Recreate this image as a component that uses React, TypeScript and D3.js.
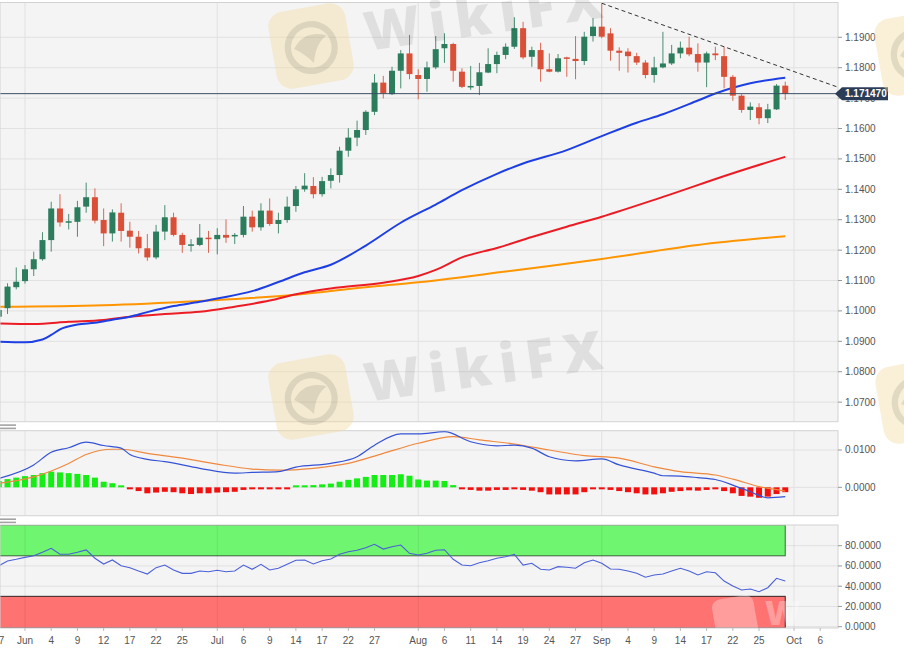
import React from "react";
import * as d3 from "d3";

// ---- Daily EUR/USD candles (trading days) ----
const dates = [
  "05-27","05-28","05-29",
  "06-01","06-02","06-03","06-04","06-05","06-08","06-09","06-10","06-11","06-12","06-15","06-16","06-17","06-18","06-19","06-22","06-23","06-24","06-25","06-26","06-29","06-30",
  "07-01","07-02","07-03","07-06","07-07","07-08","07-09","07-10","07-13","07-14","07-15","07-16","07-17","07-20","07-21","07-22","07-23","07-24","07-27","07-28","07-29","07-30","07-31",
  "08-03","08-04","08-05","08-06","08-07","08-10","08-11","08-12","08-13","08-14","08-17","08-18","08-19","08-20","08-21","08-24","08-25","08-26","08-27","08-28","08-31",
  "09-01","09-02","09-03","09-04","09-07","09-08","09-09","09-10","09-11","09-14","09-15","09-16","09-17","09-18","09-21","09-22","09-23","09-24","09-25","09-28","09-29","09-30",
];
const opens = [
  1.0981,1.1009,1.1078,
  1.1098,1.1137,1.1170,1.1233,1.1337,1.1292,1.1293,1.1343,1.1374,1.1299,1.1255,1.1323,1.1264,1.1244,1.1206,1.1176,1.1261,1.1308,1.1250,1.1216,1.1217,1.1241,
  1.1236,1.1250,1.1245,1.1250,1.1310,1.1275,1.1330,1.1286,1.1299,1.1345,1.1400,1.1411,1.1384,1.1428,1.1447,1.1527,1.1570,1.1595,1.1655,1.1751,1.1713,1.1790,1.1847,
  1.1776,1.1763,1.1801,1.1864,1.1878,1.1787,1.1736,1.1740,1.1784,1.1812,1.1842,1.1869,1.1930,1.1836,1.1858,1.1795,1.1787,1.1834,1.1829,1.1822,1.1904,
  1.1935,1.1913,1.1856,1.1853,1.1838,1.1817,1.1776,1.1801,1.1814,1.1847,1.1866,1.1845,1.1817,1.1847,1.1838,1.1770,1.1708,1.1661,1.1670,1.1634,1.1663,1.1741,
];
const highs = [
  1.1010,1.1091,1.1143,
  1.1151,1.1195,1.1259,1.1359,1.1384,1.1319,1.1362,1.1422,1.1403,1.1337,1.1334,1.1354,1.1293,1.1263,1.1253,1.1283,1.1348,1.1323,1.1257,1.1236,1.1286,1.1263,
  1.1272,1.1301,1.1256,1.1345,1.1330,1.1354,1.1370,1.1323,1.1376,1.1411,1.1453,1.1440,1.1441,1.1469,1.1540,1.1601,1.1626,1.1660,1.1779,1.1773,1.1803,1.1858,1.1908,
  1.1795,1.1820,1.1904,1.1913,1.1882,1.1798,1.1806,1.1816,1.1864,1.1853,1.1880,1.1966,1.1951,1.1869,1.1882,1.1847,1.1845,1.1836,1.1904,1.1918,1.1963,
  1.2012,1.1930,1.1867,1.1864,1.1849,1.1825,1.1836,1.1918,1.1875,1.1886,1.1902,1.1880,1.1853,1.1869,1.1869,1.1776,1.1713,1.1686,1.1683,1.1681,1.1746,1.1754,
];
const lows = [
  1.0945,1.0990,1.1071,
  1.1090,1.1115,1.1165,1.1195,1.1277,1.1268,1.1244,1.1323,1.1288,1.1213,1.1228,1.1228,1.1208,1.1189,1.1165,1.1170,1.1233,1.1245,1.1191,1.1195,1.1213,1.1191,
  1.1186,1.1224,1.1220,1.1242,1.1261,1.1264,1.1280,1.1255,1.1290,1.1326,1.1392,1.1370,1.1376,1.1403,1.1422,1.1507,1.1542,1.1579,1.1644,1.1699,1.1710,1.1732,1.1762,
  1.1696,1.1721,1.1795,1.1816,1.1754,1.1733,1.1727,1.1710,1.1782,1.1782,1.1828,1.1862,1.1828,1.1803,1.1754,1.1785,1.1784,1.1770,1.1762,1.1809,1.1886,
  1.1897,1.1823,1.1790,1.1784,1.1809,1.1765,1.1751,1.1798,1.1809,1.1831,1.1838,1.1787,1.1736,1.1825,1.1732,1.1691,1.1652,1.1628,1.1614,1.1618,1.1661,1.1694,
];
const closes = [
  1.1003,1.1080,1.1096,
  1.1137,1.1170,1.1233,1.1337,1.1291,1.1295,1.1341,1.1374,1.1297,1.1255,1.1324,1.1263,1.1244,1.1206,1.1176,1.1261,1.1308,1.1250,1.1217,1.1219,1.1241,1.1236,
  1.1250,1.1241,1.1250,1.1310,1.1275,1.1330,1.1286,1.1299,1.1343,1.1400,1.1412,1.1384,1.1427,1.1447,1.1527,1.1570,1.1595,1.1655,1.1751,1.1716,1.1790,1.1847,1.1779,
  1.1763,1.1801,1.1861,1.1878,1.1790,1.1737,1.1740,1.1785,1.1812,1.1842,1.1869,1.1930,1.1834,1.1858,1.1795,1.1787,1.1831,1.1829,1.1822,1.1902,1.1935,
  1.1902,1.1856,1.1849,1.1838,1.1817,1.1776,1.1801,1.1814,1.1847,1.1866,1.1844,1.1817,1.1847,1.1841,1.1770,1.1708,1.1661,1.1672,1.1634,1.1663,1.1741,1.17147,
];

// ---- Moving averages (read at knots) ----
const sma50Dates = ["05-27","06-01","06-03","06-04","06-05","06-09","06-11","06-15","06-17","06-19","06-24","06-29","07-01","07-07","07-10","07-15","07-20","07-24","07-30","08-05","08-10","08-14","08-19","08-26","09-01","09-07","09-10","09-16","09-18","09-22","09-24","09-30"];
const sma50 = [1.0899,1.0897,1.0906,1.0921,1.0939,1.0955,1.0961,1.0971,1.0981,1.0996,1.1016,1.1030,1.1041,1.1065,1.1095,1.1127,1.1152,1.1215,1.1290,1.1350,1.1397,1.1451,1.1485,1.1529,1.1575,1.1619,1.1647,1.1692,1.1715,1.1734,1.1749,1.1767];
const sma100Dates = ["05-27","06-02","06-08","06-12","06-17","06-23","06-29","07-03","07-09","07-14","07-20","07-28","08-03","08-05","08-10","08-14","08-20","08-26","09-01","09-10","09-22","09-30"];
const sma100 = [1.0959,1.0957,1.0964,1.0970,1.0981,1.0990,1.0997,1.1014,1.1034,1.1055,1.1074,1.1093,1.1115,1.1135,1.1176,1.1207,1.1243,1.1277,1.1310,1.1375,1.1453,1.1507];
const sma200Dates = ["05-27","06-12","06-29","07-14","07-24","08-03","08-10","08-14","08-24","09-01","09-16","09-30"];
const sma200 = [1.1014,1.1019,1.1033,1.1053,1.1078,1.1094,1.1111,1.1126,1.1148,1.1171,1.1217,1.1246];

// ---- MACD ----
const macdDates = ["05-27","06-02","06-04","06-08","06-10","06-12","06-16","06-17","06-19","06-23","06-29","07-03","07-07","07-10","07-14","07-20","07-23","07-27","07-30","08-03","08-06","08-11","08-14","08-18","08-20","08-24","08-27","09-01","09-03","09-09","09-10","09-14","09-16","09-18","09-22","09-24","09-28","09-30"];
const macdLine = [0.0024,0.0060,0.0094,0.0106,0.0121,0.0112,0.0105,0.0088,0.0075,0.0069,0.0051,0.0038,0.0040,0.0042,0.0054,0.0064,0.0082,0.0113,0.0143,0.0143,0.0149,0.0122,0.0111,0.0113,0.0105,0.0082,0.0071,0.0076,0.0060,0.0038,0.0031,0.0030,0.0026,0.0021,0.0006,-0.0012,-0.0028,-0.0025];
const signalDates = ["05-27","06-02","06-08","06-10","06-15","06-16","06-19","06-25","07-01","07-07","07-10","07-16","07-22","07-28","08-03","08-07","08-12","08-18","08-24","08-28","09-03","09-09","09-14","09-18","09-22","09-25","09-30"];
const signalLine = [0.0011,0.0028,0.0064,0.0088,0.0102,0.0102,0.0091,0.0078,0.0062,0.0049,0.0046,0.0051,0.0064,0.0091,0.0118,0.0136,0.0127,0.0116,0.0100,0.0085,0.0078,0.0055,0.0042,0.0033,0.0022,0.0002,-0.0010];
const histogram = [
  0.0017,0.0022,0.0026,
  0.0030,0.0033,0.0038,0.0042,0.0040,0.0038,0.0036,0.0033,0.0026,0.0015,0.0011,0.0003,-0.0001,-0.0010,-0.0016,-0.0014,-0.0012,-0.0013,-0.0016,-0.0018,-0.0016,-0.0016,
  -0.0014,-0.0013,-0.0012,-0.0007,-0.0005,-0.0003,-0.0002,-0.0001,-0.0001,0.0003,0.0004,0.0006,0.0008,0.0010,0.0015,0.0020,0.0024,0.0028,0.0033,0.0033,0.0033,0.0035,0.0031,
  0.0021,0.0018,0.0018,0.0017,0.0006,-0.0001,-0.0007,-0.0009,-0.0009,-0.0007,-0.0007,-0.0003,-0.0007,-0.0009,-0.0013,-0.0019,-0.0019,-0.0019,-0.0019,-0.0013,-0.0005,
  -0.0003,-0.0007,-0.0010,-0.0013,-0.0016,-0.0019,-0.0019,-0.0016,-0.0012,-0.0010,-0.0008,-0.0009,-0.0007,-0.0005,-0.0010,-0.0016,-0.0023,-0.0025,-0.0028,-0.0025,-0.0018,-0.0013,
];

// ---- RSI ----
const rsi = [
  60.2,64.9,66.6,
  68.5,70.1,73.5,77.4,71.5,71.5,73.5,75.8,67.6,61.9,65.9,60.2,58.3,55.0,52.0,58.3,60.9,56.0,52.7,52.7,55.0,54.3,
  55.7,54.3,55.0,60.9,56.7,61.6,56.0,57.7,61.6,65.6,65.9,61.9,65.2,66.9,71.5,74.1,75.5,78.0,81.4,76.7,79.0,80.7,72.5,
  70.8,72.5,75.5,76.0,66.6,60.9,60.2,63.2,65.2,67.6,69.1,71.5,60.9,62.6,56.7,56.0,59.3,58.7,57.7,63.2,65.9,
  62.6,57.0,56.7,55.0,52.7,48.8,51.1,52.0,55.0,57.7,55.0,51.1,54.3,53.3,45.1,40.2,36.2,37.2,34.6,38.5,47.8,45.1,
];
const rsiUpper = 70;
const rsiLower = 30;

// ---- Ticks, labels and annotations ----
const priceTicks = [1.07,1.08,1.09,1.10,1.11,1.12,1.13,1.14,1.15,1.16,1.17,1.18,1.19];
const macdTicks = [0, 0.01];
const rsiTicks = [0, 20, 40, 60, 80];
const xTickDates = ["05-27","06-01","06-04","06-09","06-12","06-17","06-22","06-25","07-01","07-06","07-09","07-14","07-17","07-22","07-27","08-03","08-06","08-11","08-14","08-19","08-24","08-27","09-01","09-04","09-09","09-14","09-17","09-22","09-25","10-01","10-06"];
const xTickLabels = ["27","Jun","4","9","12","17","22","25","Jul","6","9","14","17","22","27","Aug","6","11","14","19","24","27","Sep","4","9","14","17","22","25","Oct","6"];
const monthStarts = ["06-01","07-01","08-03","09-01","10-01"];
const trendDates = ["09-01","09-21"];
const trendPrices = [1.2012, 1.1869];
const lastPrice = 1.17147;
const watermarkText = "WikiFX";

// trading-day index relative to 1 June 2020
const parse = (s: string) => new Date(2020, +s.slice(0, 2) - 1, +s.slice(3, 5));
const BASE = parse("06-01");
const weekdays = (a: Date, b: Date) => d3.timeDay.range(a, b).filter((d) => d.getDay() % 6 !== 0).length;
const tIdx = (s: string) => {
  const d = parse(s);
  return d >= BASE ? weekdays(BASE, d) : -weekdays(d, BASE);
};

const FONT = "'Liberation Sans', Arial, sans-serif";

function Logo({ s, fill, op, ink }: { s: number; fill: string; op: number; ink: number }) {
  return (
    <g transform={`rotate(-10 ${s / 2} ${s / 2})`}>
      <rect width={s} height={s} rx={s * 0.2} fill={fill} opacity={op} />
      <g opacity={ink}>
        <circle cx={s * 0.5} cy={s * 0.52} r={s * 0.3} fill="none" stroke="#000" strokeWidth={s * 0.08} />
        <path d={`M${s * 0.28},${s * 0.5} Q${s * 0.45},${s * 0.28} ${s * 0.72},${s * 0.4} Q${s * 0.56},${s * 0.48} ${s * 0.5},${s * 0.72} Q${s * 0.4},${s * 0.58} ${s * 0.28},${s * 0.5} Z`} fill="#000" />
      </g>
    </g>
  );
}

function Watermark({ tx, ty }: { tx: number; ty: number }) {
  return (
    <g transform={`translate(${tx},${ty})`} pointerEvents="none">
      <Logo s={78} fill="#f4dca0" op={0.42} ink={0.09} />
      <text x={95} y={44} fontSize={54} fontWeight={800} letterSpacing={9} fill="#000" opacity={0.08} fontFamily="'Open Sans', sans-serif" transform="rotate(-8 95 44)">
        {watermarkText}
      </text>
    </g>
  );
}

export default function App() {
  const W = 904, H = 654, R = 838;
  const mainP = { t: 2.5, b: 421.7 };
  const macdP = { t: 430.7, b: 515.7 };
  const rsiP = { t: 525, b: 628 };

  const x = d3.scaleLinear().domain([tIdx("06-01"), tIdx("10-01")]).range([25, 794]);
  const y = d3.scaleLinear().domain([1.06356, 1.20145]).range([mainP.b, mainP.t]);
  const ym = d3.scaleLinear().domain([-0.0076, 0.01517]).range([macdP.b, macdP.t]);
  const yr = d3.scaleLinear().domain([0, 100]).range([626.7, 525.45]);

  const xi = dates.map(tIdx);
  const bw = 6;

  const smooth = (ds: string[], vs: number[], ys: d3.ScaleLinear<number, number>) =>
    d3.line<number>().x((_, i) => x(tIdx(ds[i]))).y((v) => ys(v)).curve(d3.curveMonotoneX)(vs) || "";

  const rsiPath = d3.line<number>().x((_, i) => x(xi[i])).y((v) => yr(v))(rsi) || "";

  const t0 = tIdx(trendDates[0]), t1 = tIdx(trendDates[1]);
  const slope = (trendPrices[1] - trendPrices[0]) / (t1 - t0);
  const tEnd = x.invert(R);
  const trendEndPrice = trendPrices[0] + slope * (tEnd - t0);

  const up = "#2c7d5d", down = "#d94f38";
  const grid = "#e1e1e1";
  const border = "#d2d2d2";
  const panelBg = "#f4f4f4";
  const lastX = x(xi[xi.length - 1]);
  const firstX = x(xi[0]) - 4;

  const vGrid = (t: number, b: number) =>
    monthStarts.map((m) => <line key={m} x1={x(tIdx(m))} x2={x(tIdx(m))} y1={t} y2={b} stroke={grid} strokeWidth={1} />);

  return (
    <div style={{ position: "absolute", left: 0, top: 0, width: W, height: H, background: "#fff" }}>
      <svg width={W} height={H} style={{ display: "block", fontFamily: FONT }}>
        <defs>
          <clipPath id="cMain"><rect x={0} y={mainP.t} width={R} height={mainP.b - mainP.t} /></clipPath>
          <clipPath id="cMacd"><rect x={0} y={macdP.t} width={R} height={macdP.b - macdP.t} /></clipPath>
          <clipPath id="cRsi"><rect x={0} y={rsiP.t} width={R} height={rsiP.b - rsiP.t} /></clipPath>
          <clipPath id="cAll"><rect x={0} y={0} width={W} height={H} /></clipPath>
        </defs>
        <rect x={0} y={0} width={W} height={H} fill="#fff" />

        {/* ===== Main price panel ===== */}
        <rect x={0} y={mainP.t} width={R} height={mainP.b - mainP.t} fill={panelBg} />
        <g clipPath="url(#cMain)">
          {priceTicks.map((p) => (
            <line key={p} x1={0} x2={R} y1={y(p)} y2={y(p)} stroke={grid} strokeWidth={1} />
          ))}
          {vGrid(mainP.t, mainP.b)}

          <path d={smooth(sma200Dates, sma200, y)} fill="none" stroke="#ff9500" strokeWidth={2} />
          <path d={smooth(sma100Dates, sma100, y)} fill="none" stroke="#ec1c24" strokeWidth={2} />
          <path d={smooth(sma50Dates, sma50, y)} fill="none" stroke="#1d3fe3" strokeWidth={2} />

          {dates.map((d, i) => {
            const cx = x(xi[i]);
            const o = opens[i], c = closes[i];
            const col = c >= o ? up : down;
            const top = y(Math.max(o, c)), bot = y(Math.min(o, c));
            return (
              <g key={d}>
                <line x1={cx} x2={cx} y1={y(highs[i])} y2={y(lows[i])} stroke={col} strokeWidth={1} opacity={0.85} />
                <rect x={cx - bw / 2} y={top} width={bw} height={Math.max(1.5, bot - top)} fill={col} />
              </g>
            );
          })}

          <line x1={0} x2={R} y1={y(lastPrice)} y2={y(lastPrice)} stroke="#3b4d66" strokeWidth={1} />
          <line x1={x(t0)} y1={y(trendPrices[0])} x2={R} y2={y(trendEndPrice)} stroke="#333" strokeWidth={1} strokeDasharray="4,3" />
        </g>
        <rect x={0} y={mainP.t} width={R} height={mainP.b - mainP.t} fill="none" stroke={border} />

        {/* price axis */}
        {priceTicks.map((p) => (
          <g key={p}>
            <line x1={R} x2={R + 4} y1={y(p)} y2={y(p)} stroke="#999" />
            <text x={845} y={y(p) + 3.5} fontSize={10} fill="#555">{p.toFixed(4)}</text>
          </g>
        ))}
        <path d={`M${R - 3},${y(lastPrice)} L${R + 4},${y(lastPrice) - 6.5} L888,${y(lastPrice) - 6.5} L888,${y(lastPrice) + 6.5} L${R + 4},${y(lastPrice) + 6.5} Z`} fill="#2b3d56" />
        <text x={845} y={y(lastPrice) + 3.6} fontSize={10} fontWeight={700} fill="#fff">{lastPrice.toFixed(6)}</text>

        {/* separator handles */}
        <rect x={0} y={424.3} width={16} height={1.6} fill="#a3a3a3" />
        <rect x={0} y={427.6} width={16} height={1.6} fill="#a3a3a3" />
        <rect x={0} y={518.4} width={16} height={1.6} fill="#a3a3a3" />
        <rect x={0} y={521.6} width={16} height={1.6} fill="#a3a3a3" />

        {/* ===== MACD panel ===== */}
        <rect x={0} y={macdP.t} width={R} height={macdP.b - macdP.t} fill={panelBg} />
        <g clipPath="url(#cMacd)">
          {macdTicks.map((v) => (
            <line key={v} x1={0} x2={R} y1={ym(v)} y2={ym(v)} stroke={grid} />
          ))}
          {vGrid(macdP.t, macdP.b)}
          {histogram.map((v, i) => {
            const cx = x(xi[i]);
            const y0 = ym(0), y1 = ym(v);
            const h = Math.max(2, Math.abs(y1 - y0));
            const yy = v >= 0 ? y0 - h : y0;
            return <rect key={i} x={cx - bw / 2} y={yy} width={bw} height={h} fill={v >= 0 ? "#14ee14" : "#f40f0f"} />;
          })}
          <path d={smooth(signalDates, signalLine, ym)} fill="none" stroke="#f0883e" strokeWidth={1.2} />
          <path d={smooth(macdDates, macdLine, ym)} fill="none" stroke="#3553d6" strokeWidth={1.2} />
        </g>
        <rect x={0} y={macdP.t} width={R} height={macdP.b - macdP.t} fill="none" stroke={border} />
        {macdTicks.map((v) => (
          <g key={v}>
            <line x1={R} x2={R + 4} y1={ym(v)} y2={ym(v)} stroke="#999" />
            <text x={845} y={ym(v) + 3.5} fontSize={10} fill="#555">{v.toFixed(4)}</text>
          </g>
        ))}

        {/* ===== RSI panel ===== */}
        <rect x={0} y={rsiP.t} width={R} height={rsiP.b - rsiP.t} fill={panelBg} />
        <g clipPath="url(#cRsi)">
          {rsiTicks.map((v) => (
            <line key={v} x1={0} x2={R} y1={yr(v)} y2={yr(v)} stroke={grid} />
          ))}
          <rect x={firstX} y={rsiP.t} width={lastX - firstX} height={yr(rsiUpper) - rsiP.t} fill="#6ff56f" stroke="#000" strokeOpacity={0.6} />
          <rect x={firstX} y={yr(rsiLower)} width={lastX - firstX} height={rsiP.b - yr(rsiLower)} fill="#ff7272" stroke="#000" strokeOpacity={0.8} />
          {monthStarts.map((m) => (
            <line key={m} x1={x(tIdx(m))} x2={x(tIdx(m))} y1={rsiP.t} y2={rsiP.b} stroke="#000" strokeOpacity={0.07} />
          ))}
          <g transform="translate(714,597)">
            <Logo s={42} fill="#ffffff" op={0.3} ink={0} />
          </g>
          <text x={765} y={625} fontSize={34} fontWeight={800} fill="#fff" opacity={0.3} fontFamily="'Open Sans', sans-serif">W</text>
          <path d={rsiPath} fill="none" stroke="#4a60d8" strokeWidth={1.1} />
        </g>
        <rect x={0} y={rsiP.t} width={R} height={rsiP.b - rsiP.t} fill="none" stroke={border} />
        {rsiTicks.map((v) => (
          <g key={v}>
            <line x1={R} x2={R + 4} y1={yr(v)} y2={yr(v)} stroke="#999" />
            <text x={845} y={yr(v) + 3.5} fontSize={10} fill="#555">{v.toFixed(4)}</text>
          </g>
        ))}

        {/* ===== Date axis ===== */}
        {xTickDates.map((d, i) => {
          const tx = x(tIdx(d));
          return (
            <g key={d}>
              <line x1={tx} x2={tx} y1={rsiP.b} y2={rsiP.b + 3} stroke="#bbb" />
              <text x={tx} y={644} fontSize={10} fill="#555" textAnchor="middle">{xTickLabels[i]}</text>
            </g>
          );
        })}

        {/* ===== Tiled watermark overlay ===== */}
        <g clipPath="url(#cAll)">
          <Watermark tx={272} ty={7} />
          <Watermark tx={272} ty={358} />
          <g transform="translate(878,14)"><Logo s={78} fill="#f4dca0" op={0.42} ink={0.09} /></g>
          <g transform="translate(879,362)"><Logo s={78} fill="#f4dca0" op={0.42} ink={0.09} /></g>
        </g>
      </svg>
    </div>
  );
}
